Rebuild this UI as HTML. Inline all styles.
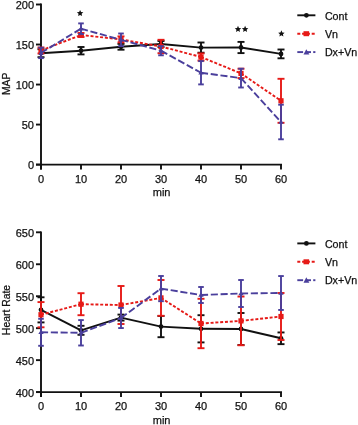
<!DOCTYPE html>
<html><head><meta charset="utf-8"><style>
html,body{margin:0;padding:0;background:#fff;}
body{width:358px;height:425px;overflow:hidden;}
svg{display:block;will-change:transform;filter:blur(0.3px);font-family:"Liberation Sans",sans-serif;font-size:11.0px;fill:#111;}
text{stroke:#111;stroke-width:0.25px;}
</style></head><body>
<svg width="358" height="425" viewBox="0 0 358 425">
<line x1="41" y1="3.6" x2="41" y2="169.6" stroke="#111" stroke-width="1.9"/><line x1="36" y1="164.6" x2="282" y2="164.6" stroke="#111" stroke-width="1.9"/><line x1="36" y1="4.50" x2="41" y2="4.50" stroke="#111" stroke-width="1.9"/><text x="34" y="9.20" text-anchor="end">200</text><line x1="36" y1="44.52" x2="41" y2="44.52" stroke="#111" stroke-width="1.9"/><text x="34" y="49.23" text-anchor="end">150</text><line x1="36" y1="84.55" x2="41" y2="84.55" stroke="#111" stroke-width="1.9"/><text x="34" y="89.25" text-anchor="end">100</text><line x1="36" y1="124.57" x2="41" y2="124.57" stroke="#111" stroke-width="1.9"/><text x="34" y="129.27" text-anchor="end">50</text><line x1="36" y1="164.60" x2="41" y2="164.60" stroke="#111" stroke-width="1.9"/><text x="34" y="169.30" text-anchor="end">0</text><line x1="41" y1="164.6" x2="41" y2="169.6" stroke="#111" stroke-width="1.9"/><text x="41" y="182.50" text-anchor="middle">0</text><line x1="81" y1="164.6" x2="81" y2="169.6" stroke="#111" stroke-width="1.9"/><text x="81" y="182.50" text-anchor="middle">10</text><line x1="121" y1="164.6" x2="121" y2="169.6" stroke="#111" stroke-width="1.9"/><text x="121" y="182.50" text-anchor="middle">20</text><line x1="161" y1="164.6" x2="161" y2="169.6" stroke="#111" stroke-width="1.9"/><text x="161" y="182.50" text-anchor="middle">30</text><line x1="201" y1="164.6" x2="201" y2="169.6" stroke="#111" stroke-width="1.9"/><text x="201" y="182.50" text-anchor="middle">40</text><line x1="241" y1="164.6" x2="241" y2="169.6" stroke="#111" stroke-width="1.9"/><text x="241" y="182.50" text-anchor="middle">50</text><line x1="281" y1="164.6" x2="281" y2="169.6" stroke="#111" stroke-width="1.9"/><text x="281" y="182.50" text-anchor="middle">60</text><text x="161.6" y="196.30" text-anchor="middle">min</text><text transform="translate(9.6,83.8) rotate(-90)" text-anchor="middle" font-size="10.4">MAP</text><line x1="41" y1="53.20" x2="81" y2="50.70" stroke="#111" stroke-width="1.9"/><line x1="81" y1="50.70" x2="121" y2="46.80" stroke="#111" stroke-width="1.9"/><line x1="121" y1="46.80" x2="161" y2="44.00" stroke="#111" stroke-width="1.9"/><line x1="161" y1="44.00" x2="201" y2="47.60" stroke="#111" stroke-width="1.9"/><line x1="201" y1="47.60" x2="241" y2="47.50" stroke="#111" stroke-width="1.9"/><line x1="241" y1="47.50" x2="281" y2="53.90" stroke="#111" stroke-width="1.9"/><line x1="41" y1="49.20" x2="41" y2="57.20" stroke="#111" stroke-width="1.9"/><line x1="37.5" y1="49.20" x2="44.5" y2="49.20" stroke="#111" stroke-width="1.9"/><line x1="37.5" y1="57.20" x2="44.5" y2="57.20" stroke="#111" stroke-width="1.9"/><line x1="81" y1="47.00" x2="81" y2="54.40" stroke="#111" stroke-width="1.9"/><line x1="77.5" y1="47.00" x2="84.5" y2="47.00" stroke="#111" stroke-width="1.9"/><line x1="77.5" y1="54.40" x2="84.5" y2="54.40" stroke="#111" stroke-width="1.9"/><line x1="121" y1="43.90" x2="121" y2="49.70" stroke="#111" stroke-width="1.9"/><line x1="117.5" y1="43.90" x2="124.5" y2="43.90" stroke="#111" stroke-width="1.9"/><line x1="117.5" y1="49.70" x2="124.5" y2="49.70" stroke="#111" stroke-width="1.9"/><line x1="161" y1="41.00" x2="161" y2="47.00" stroke="#111" stroke-width="1.9"/><line x1="157.5" y1="41.00" x2="164.5" y2="41.00" stroke="#111" stroke-width="1.9"/><line x1="157.5" y1="47.00" x2="164.5" y2="47.00" stroke="#111" stroke-width="1.9"/><line x1="201" y1="42.50" x2="201" y2="52.70" stroke="#111" stroke-width="1.9"/><line x1="197.5" y1="42.50" x2="204.5" y2="42.50" stroke="#111" stroke-width="1.9"/><line x1="197.5" y1="52.70" x2="204.5" y2="52.70" stroke="#111" stroke-width="1.9"/><line x1="241" y1="41.90" x2="241" y2="53.10" stroke="#111" stroke-width="1.9"/><line x1="237.5" y1="41.90" x2="244.5" y2="41.90" stroke="#111" stroke-width="1.9"/><line x1="237.5" y1="53.10" x2="244.5" y2="53.10" stroke="#111" stroke-width="1.9"/><line x1="281" y1="49.50" x2="281" y2="58.30" stroke="#111" stroke-width="1.9"/><line x1="277.5" y1="49.50" x2="284.5" y2="49.50" stroke="#111" stroke-width="1.9"/><line x1="277.5" y1="58.30" x2="284.5" y2="58.30" stroke="#111" stroke-width="1.9"/><circle cx="41" cy="53.20" r="2.4" fill="#111"/><circle cx="81" cy="50.70" r="2.4" fill="#111"/><circle cx="121" cy="46.80" r="2.4" fill="#111"/><circle cx="161" cy="44.00" r="2.4" fill="#111"/><circle cx="201" cy="47.60" r="2.4" fill="#111"/><circle cx="241" cy="47.50" r="2.4" fill="#111"/><circle cx="281" cy="53.90" r="2.4" fill="#111"/><line x1="41" y1="50.50" x2="81" y2="35.00" stroke="#e61a17" stroke-width="1.9" stroke-dasharray="3.0 1.8"/><line x1="81" y1="35.00" x2="121" y2="39.40" stroke="#e61a17" stroke-width="1.9" stroke-dasharray="3.0 1.8"/><line x1="121" y1="39.40" x2="161" y2="46.50" stroke="#e61a17" stroke-width="1.9" stroke-dasharray="3.0 1.8"/><line x1="161" y1="46.50" x2="201" y2="57.00" stroke="#e61a17" stroke-width="1.9" stroke-dasharray="3.0 1.8"/><line x1="201" y1="57.00" x2="241" y2="73.40" stroke="#e61a17" stroke-width="1.9" stroke-dasharray="3.0 1.8"/><line x1="241" y1="73.40" x2="281" y2="100.80" stroke="#e61a17" stroke-width="1.9" stroke-dasharray="3.0 1.8"/><line x1="41" y1="47.50" x2="41" y2="53.50" stroke="#e61a17" stroke-width="1.9"/><line x1="37.5" y1="47.50" x2="44.5" y2="47.50" stroke="#e61a17" stroke-width="1.9"/><line x1="37.5" y1="53.50" x2="44.5" y2="53.50" stroke="#e61a17" stroke-width="1.9"/><line x1="81" y1="33.00" x2="81" y2="37.00" stroke="#e61a17" stroke-width="1.9"/><line x1="77.5" y1="33.00" x2="84.5" y2="33.00" stroke="#e61a17" stroke-width="1.9"/><line x1="77.5" y1="37.00" x2="84.5" y2="37.00" stroke="#e61a17" stroke-width="1.9"/><line x1="121" y1="36.40" x2="121" y2="42.40" stroke="#e61a17" stroke-width="1.9"/><line x1="117.5" y1="36.40" x2="124.5" y2="36.40" stroke="#e61a17" stroke-width="1.9"/><line x1="117.5" y1="42.40" x2="124.5" y2="42.40" stroke="#e61a17" stroke-width="1.9"/><line x1="161" y1="39.80" x2="161" y2="53.20" stroke="#e61a17" stroke-width="1.9"/><line x1="157.5" y1="39.80" x2="164.5" y2="39.80" stroke="#e61a17" stroke-width="1.9"/><line x1="157.5" y1="53.20" x2="164.5" y2="53.20" stroke="#e61a17" stroke-width="1.9"/><line x1="201" y1="53.40" x2="201" y2="60.60" stroke="#e61a17" stroke-width="1.9"/><line x1="197.5" y1="53.40" x2="204.5" y2="53.40" stroke="#e61a17" stroke-width="1.9"/><line x1="197.5" y1="60.60" x2="204.5" y2="60.60" stroke="#e61a17" stroke-width="1.9"/><line x1="241" y1="68.70" x2="241" y2="78.10" stroke="#e61a17" stroke-width="1.9"/><line x1="237.5" y1="68.70" x2="244.5" y2="68.70" stroke="#e61a17" stroke-width="1.9"/><line x1="237.5" y1="78.10" x2="244.5" y2="78.10" stroke="#e61a17" stroke-width="1.9"/><line x1="281" y1="78.80" x2="281" y2="122.80" stroke="#e61a17" stroke-width="1.9"/><line x1="277.5" y1="78.80" x2="284.5" y2="78.80" stroke="#e61a17" stroke-width="1.9"/><line x1="277.5" y1="122.80" x2="284.5" y2="122.80" stroke="#e61a17" stroke-width="1.9"/><rect x="38.4" y="47.90" width="5.2" height="5.2" fill="#e61a17"/><rect x="78.4" y="32.40" width="5.2" height="5.2" fill="#e61a17"/><rect x="118.4" y="36.80" width="5.2" height="5.2" fill="#e61a17"/><rect x="158.4" y="43.90" width="5.2" height="5.2" fill="#e61a17"/><rect x="198.4" y="54.40" width="5.2" height="5.2" fill="#e61a17"/><rect x="238.4" y="70.80" width="5.2" height="5.2" fill="#e61a17"/><rect x="278.4" y="98.20" width="5.2" height="5.2" fill="#e61a17"/><line x1="41" y1="52.90" x2="81" y2="28.70" stroke="#4a3f9c" stroke-width="1.9" stroke-dasharray="7.1 2.7"/><line x1="81" y1="28.70" x2="121" y2="39.80" stroke="#4a3f9c" stroke-width="1.9" stroke-dasharray="7.1 2.7"/><line x1="121" y1="39.80" x2="161" y2="50.70" stroke="#4a3f9c" stroke-width="1.9" stroke-dasharray="7.1 2.7"/><line x1="161" y1="50.70" x2="201" y2="72.75" stroke="#4a3f9c" stroke-width="1.9" stroke-dasharray="7.1 2.7"/><line x1="201" y1="72.75" x2="241" y2="78.10" stroke="#4a3f9c" stroke-width="1.9" stroke-dasharray="7.1 2.7"/><line x1="241" y1="78.10" x2="281" y2="122.00" stroke="#4a3f9c" stroke-width="1.9" stroke-dasharray="7.1 2.7"/><line x1="41" y1="47.70" x2="41" y2="58.10" stroke="#4a3f9c" stroke-width="1.9"/><line x1="38.2" y1="47.70" x2="43.8" y2="47.70" stroke="#4a3f9c" stroke-width="1.9"/><line x1="38.2" y1="58.10" x2="43.8" y2="58.10" stroke="#4a3f9c" stroke-width="1.9"/><line x1="81" y1="23.40" x2="81" y2="34.00" stroke="#4a3f9c" stroke-width="1.9"/><line x1="78.2" y1="23.40" x2="83.8" y2="23.40" stroke="#4a3f9c" stroke-width="1.9"/><line x1="78.2" y1="34.00" x2="83.8" y2="34.00" stroke="#4a3f9c" stroke-width="1.9"/><line x1="121" y1="33.50" x2="121" y2="46.10" stroke="#4a3f9c" stroke-width="1.9"/><line x1="118.2" y1="33.50" x2="123.8" y2="33.50" stroke="#4a3f9c" stroke-width="1.9"/><line x1="118.2" y1="46.10" x2="123.8" y2="46.10" stroke="#4a3f9c" stroke-width="1.9"/><line x1="161" y1="46.10" x2="161" y2="55.30" stroke="#4a3f9c" stroke-width="1.9"/><line x1="158.2" y1="46.10" x2="163.8" y2="46.10" stroke="#4a3f9c" stroke-width="1.9"/><line x1="158.2" y1="55.30" x2="163.8" y2="55.30" stroke="#4a3f9c" stroke-width="1.9"/><line x1="201" y1="61.10" x2="201" y2="84.40" stroke="#4a3f9c" stroke-width="1.9"/><line x1="198.2" y1="61.10" x2="203.8" y2="61.10" stroke="#4a3f9c" stroke-width="1.9"/><line x1="198.2" y1="84.40" x2="203.8" y2="84.40" stroke="#4a3f9c" stroke-width="1.9"/><line x1="241" y1="68.70" x2="241" y2="87.50" stroke="#4a3f9c" stroke-width="1.9"/><line x1="238.2" y1="68.70" x2="243.8" y2="68.70" stroke="#4a3f9c" stroke-width="1.9"/><line x1="238.2" y1="87.50" x2="243.8" y2="87.50" stroke="#4a3f9c" stroke-width="1.9"/><line x1="281" y1="104.70" x2="281" y2="139.30" stroke="#4a3f9c" stroke-width="1.9"/><line x1="278.2" y1="104.70" x2="283.8" y2="104.70" stroke="#4a3f9c" stroke-width="1.9"/><line x1="278.2" y1="139.30" x2="283.8" y2="139.30" stroke="#4a3f9c" stroke-width="1.9"/><polygon points="38.3,54.70 43.7,54.70 41,50.30" fill="#4a3f9c"/><polygon points="78.3,30.50 83.7,30.50 81,26.10" fill="#4a3f9c"/><polygon points="118.3,41.60 123.7,41.60 121,37.20" fill="#4a3f9c"/><polygon points="158.3,52.50 163.7,52.50 161,48.10" fill="#4a3f9c"/><polygon points="198.3,74.55 203.7,74.55 201,70.15" fill="#4a3f9c"/><polygon points="238.3,79.90 243.7,79.90 241,75.50" fill="#4a3f9c"/><polygon points="278.3,123.80 283.7,123.80 281,119.40" fill="#4a3f9c"/><polygon points="80.10,9.90 81.04,12.01 83.33,12.25 81.62,13.79 82.10,16.05 80.10,14.90 78.10,16.05 78.58,13.79 76.87,12.25 79.16,12.01" fill="#111"/><polygon points="238.00,25.80 238.94,27.91 241.23,28.15 239.52,29.69 240.00,31.95 238.00,30.80 236.00,31.95 236.48,29.69 234.77,28.15 237.06,27.91" fill="#111"/><polygon points="245.10,25.80 246.04,27.91 248.33,28.15 246.62,29.69 247.10,31.95 245.10,30.80 243.10,31.95 243.58,29.69 241.87,28.15 244.16,27.91" fill="#111"/><polygon points="281.40,30.30 282.34,32.41 284.63,32.65 282.92,34.19 283.40,36.45 281.40,35.30 279.40,36.45 279.88,34.19 278.17,32.65 280.46,32.41" fill="#111"/><line x1="297.3" y1="15.3" x2="315.4" y2="15.3" stroke="#111" stroke-width="1.9"/><circle cx="306.4" cy="15.3" r="2.4" fill="#111"/><text x="324.9" y="19.50" font-size="10.7">Cont</text><line x1="297.3" y1="33.7" x2="314.7" y2="33.7" stroke="#e61a17" stroke-width="1.9" stroke-dasharray="3 1.8"/><rect x="303.5" y="31.20" width="5.6" height="5" fill="#e61a17"/><text x="324.9" y="37.90" font-size="10.7">Vn</text><line x1="297.3" y1="52.099999999999994" x2="303.1" y2="52.099999999999994" stroke="#4a3f9c" stroke-width="1.9"/><line x1="306" y1="52.099999999999994" x2="311" y2="52.099999999999994" stroke="#4a3f9c" stroke-width="1.9"/><line x1="313.2" y1="52.099999999999994" x2="315.4" y2="52.099999999999994" stroke="#4a3f9c" stroke-width="1.9"/><polygon points="303.5,54.60 309.4,54.60 306.3,49.20" fill="#4a3f9c"/><text x="324.9" y="56.30" font-size="10.7">Dx+Vn</text><line x1="41" y1="231.4" x2="41" y2="397.1" stroke="#111" stroke-width="1.9"/><line x1="36" y1="392.1" x2="282" y2="392.1" stroke="#111" stroke-width="1.9"/><line x1="36" y1="232.30" x2="41" y2="232.30" stroke="#111" stroke-width="1.9"/><text x="34" y="237.00" text-anchor="end">650</text><line x1="36" y1="264.26" x2="41" y2="264.26" stroke="#111" stroke-width="1.9"/><text x="34" y="268.96" text-anchor="end">600</text><line x1="36" y1="296.22" x2="41" y2="296.22" stroke="#111" stroke-width="1.9"/><text x="34" y="300.92" text-anchor="end">550</text><line x1="36" y1="328.18" x2="41" y2="328.18" stroke="#111" stroke-width="1.9"/><text x="34" y="332.88" text-anchor="end">500</text><line x1="36" y1="360.14" x2="41" y2="360.14" stroke="#111" stroke-width="1.9"/><text x="34" y="364.84" text-anchor="end">450</text><line x1="36" y1="392.10" x2="41" y2="392.10" stroke="#111" stroke-width="1.9"/><text x="34" y="396.80" text-anchor="end">400</text><line x1="41" y1="392.1" x2="41" y2="397.1" stroke="#111" stroke-width="1.9"/><text x="41" y="410.00" text-anchor="middle">0</text><line x1="81" y1="392.1" x2="81" y2="397.1" stroke="#111" stroke-width="1.9"/><text x="81" y="410.00" text-anchor="middle">10</text><line x1="121" y1="392.1" x2="121" y2="397.1" stroke="#111" stroke-width="1.9"/><text x="121" y="410.00" text-anchor="middle">20</text><line x1="161" y1="392.1" x2="161" y2="397.1" stroke="#111" stroke-width="1.9"/><text x="161" y="410.00" text-anchor="middle">30</text><line x1="201" y1="392.1" x2="201" y2="397.1" stroke="#111" stroke-width="1.9"/><text x="201" y="410.00" text-anchor="middle">40</text><line x1="241" y1="392.1" x2="241" y2="397.1" stroke="#111" stroke-width="1.9"/><text x="241" y="410.00" text-anchor="middle">50</text><line x1="281" y1="392.1" x2="281" y2="397.1" stroke="#111" stroke-width="1.9"/><text x="281" y="410.00" text-anchor="middle">60</text><text x="161.6" y="423.80" text-anchor="middle">min</text><text transform="translate(9.6,310) rotate(-90)" text-anchor="middle" font-size="10.4">Heart Rate</text><line x1="41" y1="309.85" x2="81" y2="330.30" stroke="#111" stroke-width="1.9"/><line x1="81" y1="330.30" x2="121" y2="317.60" stroke="#111" stroke-width="1.9"/><line x1="121" y1="317.60" x2="161" y2="326.60" stroke="#111" stroke-width="1.9"/><line x1="161" y1="326.60" x2="201" y2="328.80" stroke="#111" stroke-width="1.9"/><line x1="201" y1="328.80" x2="241" y2="329.00" stroke="#111" stroke-width="1.9"/><line x1="241" y1="329.00" x2="281" y2="338.30" stroke="#111" stroke-width="1.9"/><line x1="41" y1="297.30" x2="41" y2="322.40" stroke="#111" stroke-width="1.9"/><line x1="37.5" y1="297.30" x2="44.5" y2="297.30" stroke="#111" stroke-width="1.9"/><line x1="37.5" y1="322.40" x2="44.5" y2="322.40" stroke="#111" stroke-width="1.9"/><line x1="81" y1="325.80" x2="81" y2="334.80" stroke="#111" stroke-width="1.9"/><line x1="77.5" y1="325.80" x2="84.5" y2="325.80" stroke="#111" stroke-width="1.9"/><line x1="77.5" y1="334.80" x2="84.5" y2="334.80" stroke="#111" stroke-width="1.9"/><line x1="121" y1="314.60" x2="121" y2="320.60" stroke="#111" stroke-width="1.9"/><line x1="117.5" y1="314.60" x2="124.5" y2="314.60" stroke="#111" stroke-width="1.9"/><line x1="117.5" y1="320.60" x2="124.5" y2="320.60" stroke="#111" stroke-width="1.9"/><line x1="161" y1="316.00" x2="161" y2="337.20" stroke="#111" stroke-width="1.9"/><line x1="157.5" y1="316.00" x2="164.5" y2="316.00" stroke="#111" stroke-width="1.9"/><line x1="157.5" y1="337.20" x2="164.5" y2="337.20" stroke="#111" stroke-width="1.9"/><line x1="201" y1="315.20" x2="201" y2="342.40" stroke="#111" stroke-width="1.9"/><line x1="197.5" y1="315.20" x2="204.5" y2="315.20" stroke="#111" stroke-width="1.9"/><line x1="197.5" y1="342.40" x2="204.5" y2="342.40" stroke="#111" stroke-width="1.9"/><line x1="241" y1="313.00" x2="241" y2="345.00" stroke="#111" stroke-width="1.9"/><line x1="237.5" y1="313.00" x2="244.5" y2="313.00" stroke="#111" stroke-width="1.9"/><line x1="237.5" y1="345.00" x2="244.5" y2="345.00" stroke="#111" stroke-width="1.9"/><line x1="281" y1="332.45" x2="281" y2="344.15" stroke="#111" stroke-width="1.9"/><line x1="277.5" y1="332.45" x2="284.5" y2="332.45" stroke="#111" stroke-width="1.9"/><line x1="277.5" y1="344.15" x2="284.5" y2="344.15" stroke="#111" stroke-width="1.9"/><circle cx="41" cy="309.85" r="2.4" fill="#111"/><circle cx="81" cy="330.30" r="2.4" fill="#111"/><circle cx="121" cy="317.60" r="2.4" fill="#111"/><circle cx="161" cy="326.60" r="2.4" fill="#111"/><circle cx="201" cy="328.80" r="2.4" fill="#111"/><circle cx="241" cy="329.00" r="2.4" fill="#111"/><circle cx="281" cy="338.30" r="2.4" fill="#111"/><line x1="41" y1="314.70" x2="81" y2="304.20" stroke="#e61a17" stroke-width="1.9" stroke-dasharray="3.0 1.8"/><line x1="81" y1="304.20" x2="121" y2="305.00" stroke="#e61a17" stroke-width="1.9" stroke-dasharray="3.0 1.8"/><line x1="121" y1="305.00" x2="161" y2="297.90" stroke="#e61a17" stroke-width="1.9" stroke-dasharray="3.0 1.8"/><line x1="161" y1="297.90" x2="201" y2="323.50" stroke="#e61a17" stroke-width="1.9" stroke-dasharray="3.0 1.8"/><line x1="201" y1="323.50" x2="241" y2="320.90" stroke="#e61a17" stroke-width="1.9" stroke-dasharray="3.0 1.8"/><line x1="241" y1="320.90" x2="281" y2="316.50" stroke="#e61a17" stroke-width="1.9" stroke-dasharray="3.0 1.8"/><line x1="41" y1="302.10" x2="41" y2="327.30" stroke="#e61a17" stroke-width="1.9"/><line x1="37.5" y1="302.10" x2="44.5" y2="302.10" stroke="#e61a17" stroke-width="1.9"/><line x1="37.5" y1="327.30" x2="44.5" y2="327.30" stroke="#e61a17" stroke-width="1.9"/><line x1="81" y1="293.20" x2="81" y2="315.20" stroke="#e61a17" stroke-width="1.9"/><line x1="77.5" y1="293.20" x2="84.5" y2="293.20" stroke="#e61a17" stroke-width="1.9"/><line x1="77.5" y1="315.20" x2="84.5" y2="315.20" stroke="#e61a17" stroke-width="1.9"/><line x1="121" y1="286.00" x2="121" y2="324.00" stroke="#e61a17" stroke-width="1.9"/><line x1="117.5" y1="286.00" x2="124.5" y2="286.00" stroke="#e61a17" stroke-width="1.9"/><line x1="117.5" y1="324.00" x2="124.5" y2="324.00" stroke="#e61a17" stroke-width="1.9"/><line x1="161" y1="280.00" x2="161" y2="315.80" stroke="#e61a17" stroke-width="1.9"/><line x1="157.5" y1="280.00" x2="164.5" y2="280.00" stroke="#e61a17" stroke-width="1.9"/><line x1="157.5" y1="315.80" x2="164.5" y2="315.80" stroke="#e61a17" stroke-width="1.9"/><line x1="201" y1="298.80" x2="201" y2="348.20" stroke="#e61a17" stroke-width="1.9"/><line x1="197.5" y1="298.80" x2="204.5" y2="298.80" stroke="#e61a17" stroke-width="1.9"/><line x1="197.5" y1="348.20" x2="204.5" y2="348.20" stroke="#e61a17" stroke-width="1.9"/><line x1="241" y1="296.55" x2="241" y2="345.25" stroke="#e61a17" stroke-width="1.9"/><line x1="237.5" y1="296.55" x2="244.5" y2="296.55" stroke="#e61a17" stroke-width="1.9"/><line x1="237.5" y1="345.25" x2="244.5" y2="345.25" stroke="#e61a17" stroke-width="1.9"/><line x1="281" y1="293.00" x2="281" y2="340.00" stroke="#e61a17" stroke-width="1.9"/><line x1="277.5" y1="293.00" x2="284.5" y2="293.00" stroke="#e61a17" stroke-width="1.9"/><line x1="277.5" y1="340.00" x2="284.5" y2="340.00" stroke="#e61a17" stroke-width="1.9"/><rect x="38.4" y="312.10" width="5.2" height="5.2" fill="#e61a17"/><rect x="78.4" y="301.60" width="5.2" height="5.2" fill="#e61a17"/><rect x="118.4" y="302.40" width="5.2" height="5.2" fill="#e61a17"/><rect x="158.4" y="295.30" width="5.2" height="5.2" fill="#e61a17"/><rect x="198.4" y="320.90" width="5.2" height="5.2" fill="#e61a17"/><rect x="238.4" y="318.30" width="5.2" height="5.2" fill="#e61a17"/><rect x="278.4" y="313.90" width="5.2" height="5.2" fill="#e61a17"/><line x1="41" y1="332.30" x2="81" y2="332.80" stroke="#4a3f9c" stroke-width="1.9" stroke-dasharray="7.1 2.7"/><line x1="81" y1="332.80" x2="121" y2="318.00" stroke="#4a3f9c" stroke-width="1.9" stroke-dasharray="7.1 2.7"/><line x1="121" y1="318.00" x2="161" y2="288.60" stroke="#4a3f9c" stroke-width="1.9" stroke-dasharray="7.1 2.7"/><line x1="161" y1="288.60" x2="201" y2="295.00" stroke="#4a3f9c" stroke-width="1.9" stroke-dasharray="7.1 2.7"/><line x1="201" y1="295.00" x2="241" y2="293.50" stroke="#4a3f9c" stroke-width="1.9" stroke-dasharray="7.1 2.7"/><line x1="241" y1="293.50" x2="281" y2="293.00" stroke="#4a3f9c" stroke-width="1.9" stroke-dasharray="7.1 2.7"/><line x1="41" y1="318.80" x2="41" y2="345.80" stroke="#4a3f9c" stroke-width="1.9"/><line x1="38.2" y1="318.80" x2="43.8" y2="318.80" stroke="#4a3f9c" stroke-width="1.9"/><line x1="38.2" y1="345.80" x2="43.8" y2="345.80" stroke="#4a3f9c" stroke-width="1.9"/><line x1="81" y1="320.10" x2="81" y2="345.50" stroke="#4a3f9c" stroke-width="1.9"/><line x1="78.2" y1="320.10" x2="83.8" y2="320.10" stroke="#4a3f9c" stroke-width="1.9"/><line x1="78.2" y1="345.50" x2="83.8" y2="345.50" stroke="#4a3f9c" stroke-width="1.9"/><line x1="121" y1="307.95" x2="121" y2="328.05" stroke="#4a3f9c" stroke-width="1.9"/><line x1="118.2" y1="307.95" x2="123.8" y2="307.95" stroke="#4a3f9c" stroke-width="1.9"/><line x1="118.2" y1="328.05" x2="123.8" y2="328.05" stroke="#4a3f9c" stroke-width="1.9"/><line x1="161" y1="276.00" x2="161" y2="301.20" stroke="#4a3f9c" stroke-width="1.9"/><line x1="158.2" y1="276.00" x2="163.8" y2="276.00" stroke="#4a3f9c" stroke-width="1.9"/><line x1="158.2" y1="301.20" x2="163.8" y2="301.20" stroke="#4a3f9c" stroke-width="1.9"/><line x1="201" y1="287.00" x2="201" y2="303.00" stroke="#4a3f9c" stroke-width="1.9"/><line x1="198.2" y1="287.00" x2="203.8" y2="287.00" stroke="#4a3f9c" stroke-width="1.9"/><line x1="198.2" y1="303.00" x2="203.8" y2="303.00" stroke="#4a3f9c" stroke-width="1.9"/><line x1="241" y1="280.00" x2="241" y2="307.00" stroke="#4a3f9c" stroke-width="1.9"/><line x1="238.2" y1="280.00" x2="243.8" y2="280.00" stroke="#4a3f9c" stroke-width="1.9"/><line x1="238.2" y1="307.00" x2="243.8" y2="307.00" stroke="#4a3f9c" stroke-width="1.9"/><line x1="281" y1="276.05" x2="281" y2="309.95" stroke="#4a3f9c" stroke-width="1.9"/><line x1="278.2" y1="276.05" x2="283.8" y2="276.05" stroke="#4a3f9c" stroke-width="1.9"/><line x1="278.2" y1="309.95" x2="283.8" y2="309.95" stroke="#4a3f9c" stroke-width="1.9"/><polygon points="38.3,334.10 43.7,334.10 41,329.70" fill="#4a3f9c"/><polygon points="78.3,334.60 83.7,334.60 81,330.20" fill="#4a3f9c"/><polygon points="118.3,319.80 123.7,319.80 121,315.40" fill="#4a3f9c"/><polygon points="158.3,290.40 163.7,290.40 161,286.00" fill="#4a3f9c"/><polygon points="198.3,296.80 203.7,296.80 201,292.40" fill="#4a3f9c"/><polygon points="238.3,295.30 243.7,295.30 241,290.90" fill="#4a3f9c"/><polygon points="278.3,294.80 283.7,294.80 281,290.40" fill="#4a3f9c"/><line x1="297.3" y1="243.4" x2="315.4" y2="243.4" stroke="#111" stroke-width="1.9"/><circle cx="306.4" cy="243.4" r="2.4" fill="#111"/><text x="324.9" y="247.60" font-size="10.7">Cont</text><line x1="297.3" y1="261.8" x2="314.7" y2="261.8" stroke="#e61a17" stroke-width="1.9" stroke-dasharray="3 1.8"/><rect x="303.5" y="259.30" width="5.6" height="5" fill="#e61a17"/><text x="324.9" y="266.00" font-size="10.7">Vn</text><line x1="297.3" y1="280.2" x2="303.1" y2="280.2" stroke="#4a3f9c" stroke-width="1.9"/><line x1="306" y1="280.2" x2="311" y2="280.2" stroke="#4a3f9c" stroke-width="1.9"/><line x1="313.2" y1="280.2" x2="315.4" y2="280.2" stroke="#4a3f9c" stroke-width="1.9"/><polygon points="303.5,282.70 309.4,282.70 306.3,277.30" fill="#4a3f9c"/><text x="324.9" y="284.40" font-size="10.7">Dx+Vn</text>
</svg></body></html>
